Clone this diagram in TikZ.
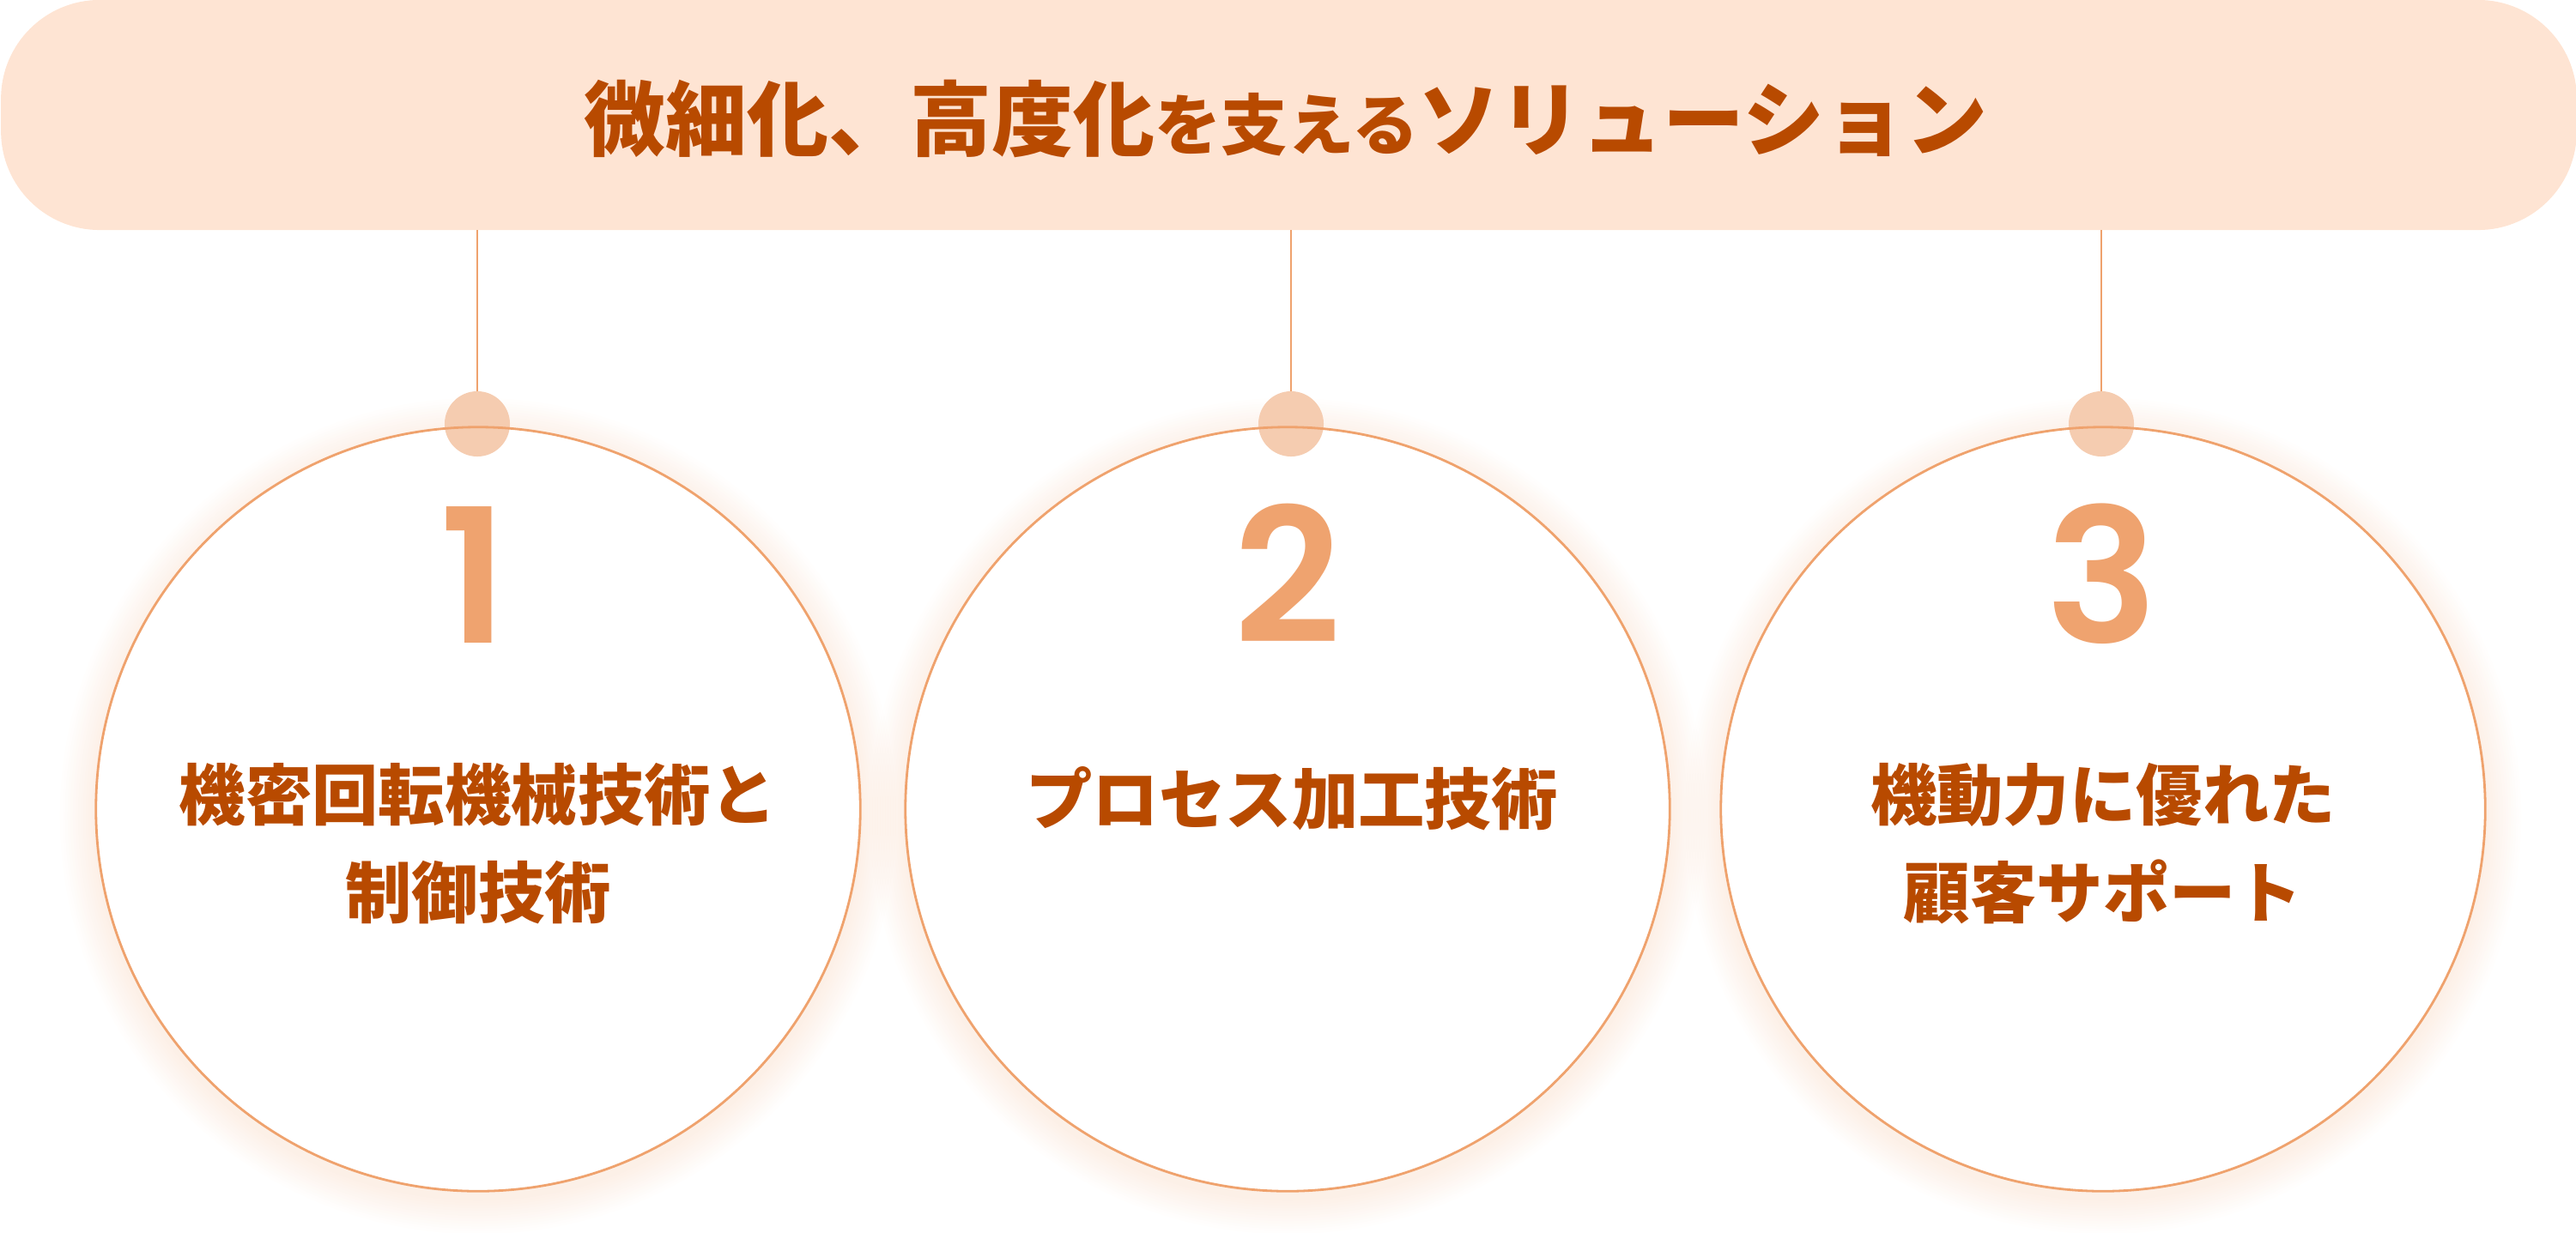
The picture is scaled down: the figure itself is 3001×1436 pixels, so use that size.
\documentclass[tikz,border=0pt]{standalone}
\usepackage{fontspec}
\newfontfamily\jp{Noto Sans CJK JP}
\newfontfamily\numf{Poppins SemiBold}
\definecolor{bannerfill}{HTML}{FEE4D3}
\definecolor{textc}{HTML}{B84A00}
\definecolor{ringc}{HTML}{EFA26D}
\definecolor{numc}{HTML}{EFA36F}
\definecolor{dotc}{HTML}{F5CCB0}
\tikzset{
  banner/.style={fill=bannerfill, rounded corners=1.15cm, minimum width=29.99cm, minimum height=2.68cm, inner sep=0pt, outer sep=0pt},
  disc/.style={circle, fill=white, minimum size=8.9cm, inner sep=0pt, outer sep=0pt},
  ring/.style={draw=ringc, line width=0.028cm},
  hole/.style={circle, fill=dotc, minimum size=0.76cm, inner sep=0pt, outer sep=0pt},
  conn/.style={draw=ringc, line width=0.02cm},
  bigno/.style={anchor=base, text=numc, inner sep=0pt, font=\numf\fontsize{62pt}{66pt}\selectfont},
  label/.style={anchor=base, text=textc, inner sep=0pt, font=\jp\bfseries\fontsize{22pt}{32pt}\selectfont},
  title/.style={anchor=base, text=textc, inner sep=0pt, font=\jp\bfseries\fontsize{27pt}{32pt}\selectfont},
  glow/.style={fill=ringc, fill opacity=0.012}
}
\begin{document}
\begin{tikzpicture}[x=0.01cm,y=-0.01cm]
\useasboundingbox (0,0) rectangle (3001,1436);
% banner
\node[banner] (banner) at (1501.5,134) {};
\node[title] (ttl) at (1498,174) {微細化、高度化{\fontsize{22pt}{26pt}\selectfont を支える}ソリューション};
% shadows
\foreach \cx in {557,1500,2450}{
  \foreach \k in {1,...,14}{
    \fill[glow] (\cx,951) circle[radius={4.45cm+\k*0.03cm}];
  }
}
% discs
\node[disc] (c1) at (557,943) {};
\node[disc] (c2) at (1500,943) {};
\node[disc] (c3) at (2450,943) {};
% dots
\node[hole] (d1) at (556,494) {};
\node[hole] (d2) at (1504,494) {};
\node[hole] (d3) at (2448,494) {};
% rings
\draw[ring] (c1.center) circle[radius=4.45cm];
\draw[ring] (c2.center) circle[radius=4.45cm];
\draw[ring] (c3.center) circle[radius=4.45cm];
% connectors
\draw[conn] (banner.south -| d1.north) -- (d1.north);
\draw[conn] (banner.south -| d2.north) -- (d2.north);
\draw[conn] (banner.south -| d3.north) -- (d3.north);
% numbers
\node[bigno] (n1) at (552,749) {1};
\node[bigno] (n2) at (1500,749) {2};
\node[bigno] (n3) at (2449,749) {3};
% labels
\node[label] (l1a) at (557,955) {機密回転機械技術と};
\node[label] (l1b) at (557,1069) {制御技術};
\node[label] (l2a) at (1505,960) {プロセス加工技術};
\node[label] (l3a) at (2450,955) {機動力に優れた};
\node[label] (l3b) at (2450,1069) {顧客サポート};
\end{tikzpicture}
\end{document}
